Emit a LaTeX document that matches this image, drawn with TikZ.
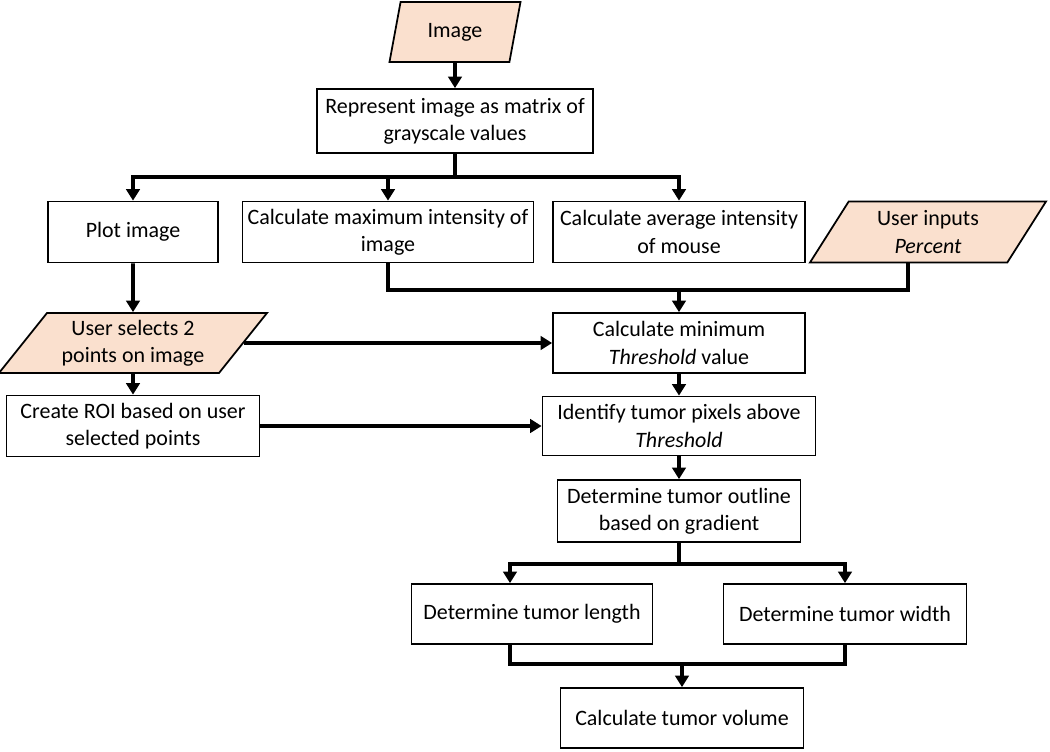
\documentclass[tikz,border=0pt]{standalone}
\usepackage{fontspec}
\setmainfont{Carlito}
\usepackage{tikz}
\usetikzlibrary{arrows.meta,shapes,positioning,calc}
\definecolor{peach}{RGB}{250,224,206}
\tikzset{
    process/.style={
        rectangle,
        draw=black,
        line width=1pt,
        fill=white,
        align=center,
        minimum height=1.22cm,
        inner sep=2pt,
    },
    io/.style={
        trapezium,
        trapezium stretches body,
        draw=black,
        line width=1pt,
        fill=peach,
        align=center,
        minimum height=1.2cm,
        inner sep=2pt,
    },
    flow/.style={line width=2.2pt, -{Triangle[length=0.23cm,width=0.27cm]}},
    link/.style={line width=2.2pt},
}

\begin{document}
\begin{tikzpicture}[
    on grid,
    font=\fontsize{12.5}{15.5}\selectfont]

\useasboundingbox (0,0) rectangle (21,-15.04);

% input image
\node
[
    io,
    trapezium left angle=66,
    trapezium right angle=114,
    minimum width=2.62cm
] (img) at (9.10,-0.64)
{Image};
% matrix
\node
[
    process,
    minimum width=5.52cm,
    minimum height=1.28cm
] (rep) [below=1.78cm of img]
{
    Represent image as matrix of \\
    grayscale values
};
% first row
\node
[
    process,
    minimum width=5.82cm
] (maxi) [below left=2.22cm and 1.34cm of rep]
{
    Calculate maximum intensity of \\
    image
};
\node
[
    process,
    minimum width=3.4cm
] (plot) [left=5.10cm of maxi]
{Plot image};
\node
[
    process,
    minimum width=5.04cm
] (avg) [right=5.82cm of maxi]
{
    Calculate average intensity \\
    of mouse
};
\node
[
    io,
    trapezium left angle=52,
    trapezium right angle=128,
    minimum width=4.72cm,
    minimum height=1.22cm
] (pct) [right=4.98cm of avg]
{
    User inputs \\
    \textit{Percent}
};
% threshold
\node
[
    process,
    minimum width=5.04cm,
    minimum height=1.2cm
] (minth) [below=2.22cm of avg]
{
    Calculate minimum \\
    \textit{Threshold} value
};
\node
[
    io,
    trapezium left angle=48,
    trapezium right angle=132,
    minimum width=5.36cm
] (sel) [below=2.22cm of plot]
{
    User selects 2 \\
    points on image
};
\node
[
    process,
    minimum width=5.06cm
] (roi) [below=1.66cm of sel]
{
    Create ROI based on user \\
    selected points
};
\node
[
    process,
    minimum width=5.46cm,
    minimum height=1.18cm
] (ident) [below=1.66cm of minth]
{
    Identify tumor pixels above \\
    \textit{Threshold}
};
% outline and size
\node
[
    process,
    minimum width=4.86cm,
    minimum height=1.24cm
] (outl) [below=1.70cm of ident]
{
    Determine tumor outline \\
    based on gradient
};
\node
[
    process,
    minimum width=4.82cm,
    minimum height=1.2cm
] (len) [below left=2.06cm and 2.94cm of outl]
{Determine tumor length};
\node
[
    process,
    minimum width=4.86cm,
    minimum height=1.2cm
] (wid) [below right=2.06cm and 3.32cm of outl]
{Determine tumor width};
\node
[
    process,
    minimum width=4.86cm,
    minimum height=1.2cm
] (vol) [below=4.14cm of outl, xshift=0.06cm]
{Calculate tumor volume};

% Connectors
\coordinate (br) at ($(rep.south)+(0,-0.46)$);
\coordinate (cl) at ($(avg.south)+(0,-0.54)$);
\coordinate (sp) at ($(outl.south)+(0,-0.42)$);
\coordinate (mg) at ($(vol.north)+(0,0.46)$);

\draw [flow] (img) -- (rep);
\draw [link] (rep.south) -- (br);
\draw [flow] (br) -| (plot);
\draw [flow] (br) -| (avg);
\draw [flow] (br -| maxi) -- (maxi);

\draw [link] (maxi.south) |- (cl) -| (pct.bottom side);
\draw [flow] (cl) -- (minth);

\draw [flow] (plot) -- (sel);
\draw [flow] (sel) -- (minth);
\draw [flow] (sel) -- (roi);
\draw [flow] (roi) -- (ident);
\draw [flow] (minth) -- (ident);
\draw [flow] (ident) -- (outl);

\draw [link] (outl.south) -- (sp);
\draw [flow] (sp) -| ([xshift=-0.44cm]len.north);
\draw [flow] (sp) -| (wid);

\draw [link] ([xshift=-0.44cm]len.south) |- (mg) -| (wid.south);
\draw [flow] (mg) -- (vol);

\end{tikzpicture}
\end{document}
